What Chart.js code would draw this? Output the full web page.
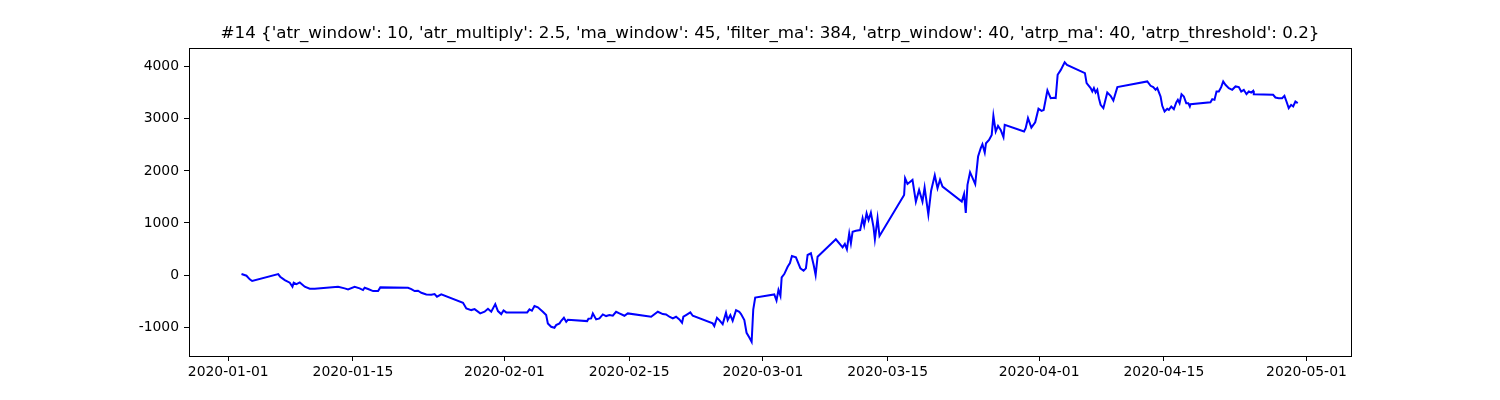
<!DOCTYPE html>
<html>
<head>
<meta charset="utf-8">
<script src="https://cdn.jsdelivr.net/npm/chart.js@4.4.1/dist/chart.umd.min.js"></script>
<style>
  body { margin: 0; background: #fff; }
</style>
</head>
<body>
<canvas id="equityChart" width="1500" height="400"></canvas>
<script>
// days since 2020-01-01 00:00 and running equity
const days = [
  1.49, 2.05, 2.42, 2.69, 5.61, 5.83, 6.35, 6.91, 7.21, 7.35, 7.66, 8.03, 8.59, 9.15, 9.71,
  12.33, 13.07, 13.45, 14.19, 14.75, 15.13, 15.31, 15.70, 16.26, 16.82, 17.07,
  20.18, 20.55, 20.92, 21.30, 21.67, 22.23, 22.79, 23.16, 23.43, 23.91,
  26.35, 26.72, 27.28, 27.65, 28.28, 28.77, 29.15, 29.52, 29.97, 30.27, 30.64, 30.90, 31.20,
  33.55, 33.81, 34.08, 34.37, 34.75, 35.31, 35.68, 35.87, 36.24, 36.61, 36.80, 37.18, 37.37, 37.67, 37.93, 38.12,
  40.28, 40.43, 40.73, 40.92, 41.29, 41.66, 42.04, 42.41, 42.78, 43.16, 43.53, 43.90, 44.46, 44.84,
  47.46, 48.21, 48.77, 49.14, 49.51, 49.89, 50.26, 50.63, 50.93, 51.08, 51.38, 51.86, 52.13,
  54.37, 54.55, 54.85, 55.11, 55.49, 55.86, 56.05, 56.35, 56.61, 56.99, 57.35, 57.55, 57.92, 58.17, 58.48, 58.74, 58.92, 59.14,
  61.28, 61.53, 61.75, 61.97, 62.11, 62.40, 62.78, 63.04, 63.26, 63.71, 64.21, 64.57, 64.83, 65.02, 65.39, 65.70, 65.92, 66.14,
  68.19, 68.95, 69.20, 69.43, 69.69, 69.88, 70.07, 70.44, 70.92, 71.19, 71.37, 71.64, 71.86, 72.12, 72.42, 72.57, 72.87, 73.09,
  75.85, 75.96, 76.23, 76.79, 77.17, 77.53, 77.91, 78.15, 78.57, 78.88, 79.29, 79.60, 79.88, 80.16,
  82.32, 82.58, 82.77, 82.96, 83.25, 83.83, 84.15, 84.45, 84.64, 84.90, 85.04, 85.38, 85.68, 85.87, 86.13, 86.39, 86.69, 87.00, 87.14,
  89.31, 89.49, 89.75, 90.13, 90.56, 90.93, 91.27, 91.51, 91.93, 92.30, 92.67, 92.86, 93.08, 93.42, 93.87, 94.13,
  96.14, 96.33, 96.78, 96.97, 97.15, 97.34, 97.53, 97.71, 97.90, 98.21, 98.35, 98.65, 99.02, 99.33, 99.78,
  103.14, 103.51, 103.81, 104.07, 104.26, 104.63, 104.82, 105.08, 105.38, 105.56, 105.83, 106.12, 106.39, 106.57, 106.76,
  106.98, 107.24, 107.51, 107.74, 107.91, 107.99,
  110.23, 110.43, 110.68, 110.91, 111.17, 111.43, 111.66, 111.91, 112.29, 112.67, 113.04, 113.41, 113.68, 113.97,
  114.27, 114.53, 114.80, 115.02, 115.09,
  117.26, 117.52, 117.89, 118.27, 118.53, 118.76, 119.01, 119.28, 119.51, 119.76, 120.02
];
const equity = [
  19, -13, -83, -115, 19, -32, -96, -148, -225, -148, -173, -141, -225, -263, -263,
  -225, -256, -275, -225, -256, -288, -244, -269, -308, -308, -237,
  -244, -269, -308, -301, -340, -372, -378, -365, -417, -372,
  -532, -641, -673, -654, -737, -705, -647, -705, -558, -692, -750, -680, -718,
  -718, -660, -686, -596, -621, -705, -769, -929, -994, -1013, -962, -929, -879, -821, -898, -859,
  -885, -840, -833, -737, -852, -833, -756, -788, -769, -782, -705, -737, -782, -737,
  -801, -705, -750, -756, -801, -833, -801, -852, -917, -801, -769, -718, -782,
  -929, -981, -821, -865, -942, -724, -865, -769, -879, -673, -705, -750, -865, -1109, -1198, -1282, -665, -433,
  -372, -488, -288, -400, -45, 19, 160, 230, 365, 340, 128, 83, 128, 385, 417, 192, 0, 352,
  686, 532, 596, 494, 801, 609, 833, 852, 865, 1090, 950, 1186, 1058, 1199, 917, 686, 1090, 750,
  1538, 1859, 1750, 1827, 1410, 1635, 1410, 1680, 1160, 1620, 1915, 1667, 1830, 1698,
  1410, 1558, 1195, 1731, 1975, 1745, 2276, 2436, 2513, 2353, 2532, 2596, 2692, 3058, 2756, 2865, 2788, 2647, 2885,
  2756, 2821, 3013, 2830, 2935, 3195, 3154, 3170, 3545, 3397, 3405, 3400, 3846, 3935, 4087, 4038,
  3878, 3686, 3590, 3525, 3590, 3506, 3558, 3397, 3269, 3205, 3301, 3506, 3442, 3352, 3609,
  3718, 3635, 3609, 3558, 3590, 3429, 3250, 3141, 3192, 3173, 3237, 3186, 3314, 3365, 3301,
  3474, 3429, 3301, 3301, 3237, 3282,
  3320, 3378, 3365, 3525, 3525, 3609, 3718, 3654, 3590, 3558, 3622, 3609, 3525, 3558,
  3474, 3525, 3506, 3538, 3474,
  3462, 3410, 3397, 3397, 3442, 3333, 3205, 3269, 3237, 3333, 3301
];

const tickDays = [0, 14, 31, 45, 60, 74, 91, 105, 121];
const tickLabels = ['2020-01-01', '2020-01-15', '2020-02-01', '2020-02-15', '2020-03-01',
  '2020-03-15', '2020-04-01', '2020-04-15', '2020-05-01'];
const yTicks = [-1000, 0, 1000, 2000, 3000, 4000];

const titleText = "#14 {'atr_window': 10, 'atr_multiply': 2.5, 'ma_window': 45, 'filter_ma': 384, " +
  "'atrp_window': 40, 'atrp_ma': 40, 'atrp_threshold': 0.2}";

const fontFamily = "'DejaVu Sans', sans-serif";

// box around the plot area, like matplotlib spines
const frame = {
  id: 'frame',
  afterDatasetsDraw(chart) {
    const a = chart.chartArea;
    const ctx = chart.ctx;
    ctx.save();
    ctx.strokeStyle = '#000';
    ctx.lineWidth = 1;
    ctx.strokeRect(Math.round(a.left) + 0.5, Math.round(a.top) + 0.5,
      Math.round(a.right - a.left), Math.round(a.bottom - a.top));
    ctx.restore();
  }
};

const ctx = document.getElementById('equityChart').getContext('2d');
new Chart(ctx, {
  type: 'line',
  data: {
    datasets: [{
      data: days.map((d, i) => ({ x: d, y: equity[i] })),
      borderColor: '#0000ff',
      borderWidth: 2,
      pointRadius: 0,
      tension: 0,
      fill: false,
    }],
  },
  options: {
    responsive: false,
    animation: false,
    devicePixelRatio: 1,
    layout: { padding: { left: 0, right: 149, top: 0, bottom: 0 } },
    plugins: {
      legend: { display: false },
      tooltip: { enabled: false },
      title: {
        display: true,
        text: titleText,
        fullSize: false,
        color: '#000',
        font: { family: fontFamily, size: 16.7, weight: 'normal' },
        padding: { top: 24, bottom: 4 },
      },
    },
    scales: {
      x: {
        type: 'linear',
        min: -4.4,
        max: 126,
        afterBuildTicks: (s) => { s.ticks = tickDays.map(v => ({ value: v })); },
        afterFit: (s) => { s.height = 44; },
        ticks: {
          autoSkip: false,
          maxRotation: 0,
          padding: 3,
          color: '#000',
          font: { family: fontFamily, size: 13.9 },
          callback: (v, i) => tickLabels[i],
        },
        grid: { drawOnChartArea: false, tickLength: 5, color: '#000' },
        border: { display: true, color: '#000' },
      },
      y: {
        min: -1555,
        max: 4360,
        afterBuildTicks: (s) => { s.ticks = yTicks.map(v => ({ value: v })); },
        afterFit: (s) => { s.width = 189; },
        ticks: {
          padding: 5,
          color: '#000',
          font: { family: fontFamily, size: 13.9 },
          callback: (v) => String(v),
        },
        grid: { drawOnChartArea: false, tickLength: 5, color: '#000' },
        border: { display: true, color: '#000' },
      },
    },
  },
  plugins: [frame],
});
</script>
</body>
</html>
